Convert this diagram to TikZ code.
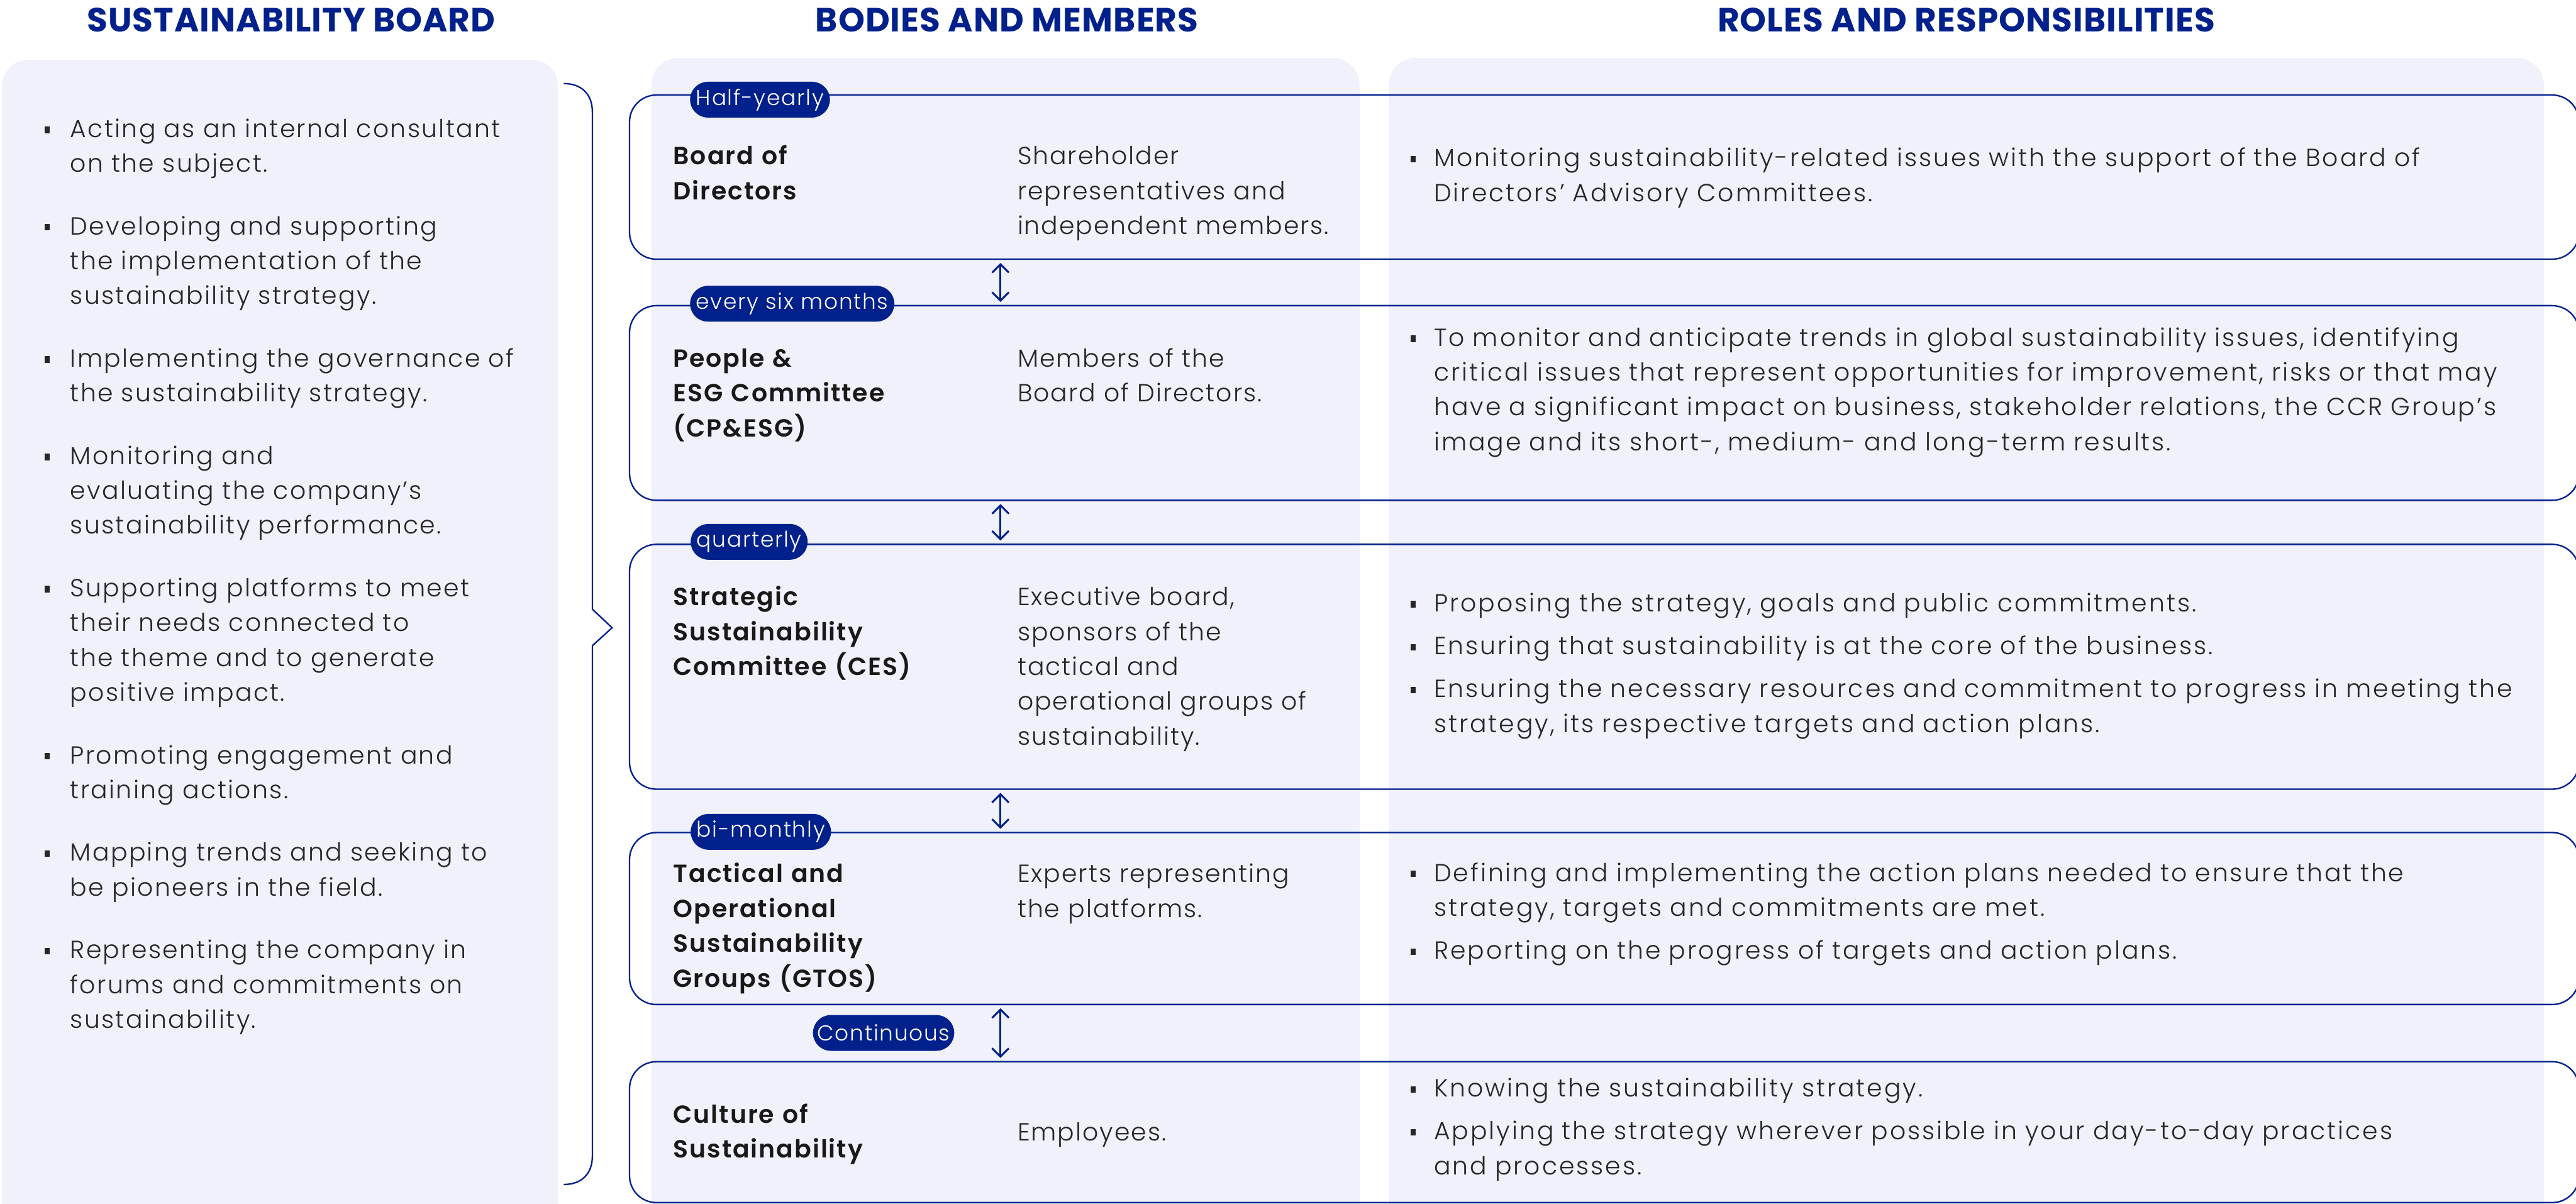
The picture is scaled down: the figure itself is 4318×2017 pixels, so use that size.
\documentclass[tikz,border=0pt]{standalone}
\usepackage{fontspec}
\setmainfont{Poppins}[UprightFont=* Light, BoldFont=* SemiBold, LetterSpace=5]
\newfontfamily\headfont{Poppins}[UprightFont=* Bold, LetterSpace=2]
\usepackage{xcolor}
\usetikzlibrary{shapes.misc, arrows.meta}

\definecolor{navy}{HTML}{00208C}
\definecolor{panelbg}{HTML}{F0F1FA}
\definecolor{ink}{HTML}{262626}

\newcommand\bodysize{\fontsize{11.8pt}{16.6pt}\selectfont}
% bullet with hanging indent; each item ends with \par
\newcommand\bul[1]{\noindent\hangindent=#1\hangafter=1%
  \makebox[#1][l]{\rule[2pt]{2.3pt}{3.1pt}}\ignorespaces}

\tikzset{
  panel/.style={fill=panelbg, rounded corners=0.45cm},
  head/.style={anchor=base, text=navy, font=\headfont\fontsize{16pt}{18pt}\selectfont},
  box/.style={draw=navy, line width=0.7pt, rounded corners=0.45cm, anchor=north west,
    inner sep=0pt, minimum width=32.66cm},
  pill/.style={rounded rectangle, fill=navy, text=white, anchor=west, inner xsep=0.04cm,
    inner ysep=0pt, minimum height=0.6cm, font=\fontsize{10.3pt}{12pt}\selectfont},
  body/.style={anchor=base west, inner sep=0pt, align=left, text=ink, font=\bodysize},
  title/.style={body, text width=5.2cm, font=\bodysize\bfseries, text=black!90},
  desc/.style={body, text width=6cm},
  roles/.style={body, text width=19.5cm, font=\bodysize\addfontfeatures{LetterSpace=7.5}},
  updown/.style={navy, line width=0.9pt,
    {Straight Barb[length=0.14cm, width=0.28cm]}-{Straight Barb[length=0.14cm, width=0.28cm]},
    shorten <=0.05cm, shorten >=0.05cm},
}

\begin{document}
\begin{tikzpicture}[x=0.01cm, y=-0.01cm]
        \useasboundingbox (0,0) rectangle (4318,2017);
        \clip (0,0) rectangle (4318,2017);

        % Panels
        \fill[panel] (3,100) rectangle (936,2080);
        \fill[panel] (1092,97) rectangle (2279,2080);
        \fill[panel] (2328,97) rectangle (4264,2080);

        \node[head] (hboard) at (488,53) {SUSTAINABILITY BOARD};
        \node[head] (hbodies) at (1688,53) {BODIES AND MEMBERS};
        \node[head] (hroles) at (3296,53) {ROLES AND RESPONSIBILITIES};

        % Sustainability board
        \node[body, text width=8.6cm, font=\bodysize\addfontfeatures{LetterSpace=6}] (board) at (74,230) {\setlength{\parskip}{0.465cm}%
          \bul{0.43cm}Acting as an internal consultant\newline on the subject.\par
          \bul{0.43cm}Developing and supporting\newline the implementation of the\newline sustainability strategy.\par
          \bul{0.43cm}Implementing the governance of\newline the sustainability strategy.\par
          \bul{0.43cm}Monitoring and\newline evaluating the company’s\newline sustainability performance.\par
          \bul{0.43cm}Supporting platforms to meet\newline their needs connected to\newline the theme and to generate\newline positive impact.\par
          \bul{0.43cm}Promoting engagement and\newline training actions.\par
          \bul{0.43cm}Mapping trends and seeking to\newline be pioneers in the field.\par
          \bul{0.43cm}Representing the company in\newline forums and commitments on\newline sustainability.\par};

        \draw[navy, line width=0.7pt, line join=miter] (945,140) .. controls (975,140) and (993,158) .. (993,188)
          -- (993,1021) -- (1026,1052) -- (993,1082) -- (993,1937)
          .. controls (993,1967) and (975,1985) .. (945,1985);

        % Bodies
        \node[box, minimum height=2.75cm] (b1) at (1054,158) {};
        \node[box, minimum height=3.26cm] (b2) at (1054,511) {};
        \node[box, minimum height=4.10cm] (b3) at (1054,911) {};
        \node[box, minimum height=2.88cm] (b4) at (1054,1394) {};
        \node[box, minimum height=2.36cm] (b5) at (1054,1778) {};

        \node[pill] (p1) at (1156,167) {Half-yearly};
        \node[pill] (p2) at (1156,509) {every six months};
        \node[pill] (p3) at (1157,908) {quarterly};
        \node[pill] (p4) at (1157,1394) {bi-monthly};
        \node[pill] (p5) at (1362,1731) {Continuous};

        \coordinate (mid) at (1677,0);
        \draw[updown] (b1.south -| mid) -- (b2.north -| mid);
        \draw[updown] (b2.south -| mid) -- (b3.north -| mid);
        \draw[updown] (b3.south -| mid) -- (b4.north -| mid);
        \draw[updown] (b4.south -| mid) -- (b5.north -| mid);

        \node[title] (t1) at (1128,276) {Board of\\Directors};
        \node[desc] (d1) at (1705,276) {Shareholder\\representatives and\\independent members.};
        \node[title] (t2) at (1128,615) {People \&\\ESG Committee\\(CP\&ESG)};
        \node[desc] (d2) at (1705,615) {Members of the\\Board of Directors.};
        \node[title] (t3) at (1128,1015) {Strategic\\Sustainability\\Committee (CES)};
        \node[desc] (d3) at (1705,1015) {Executive board,\\sponsors of the\\tactical and\\operational groups of\\sustainability.};
        \node[title] (t4) at (1128,1479) {Tactical and\\Operational\\Sustainability\\Groups (GTOS)};
        \node[desc] (d4) at (1705,1479) {Experts representing\\the platforms.};
        \node[title] (t5) at (1128,1882) {Culture of\\Sustainability};
        \node[desc] (d5) at (1705,1912) {Employees.};

        % Roles
        \node[roles] (r1) at (2364,279) {%
          \bul{0.39cm}Monitoring sustainability-related issues with the support of the Board of\newline Directors’ Advisory Committees.\par};
        \node[roles] (r2) at (2364,580) {%
          \bul{0.39cm}To monitor and anticipate trends in global sustainability issues, identifying\newline critical issues that represent opportunities for improvement, risks or that may\newline have a significant impact on business, stakeholder relations, the CCR Group’s\newline image and its short-, medium- and long-term results.\par};
        \node[roles] (r3) at (2364,1025) {\setlength{\parskip}{0.135cm}%
          \bul{0.39cm}Proposing the strategy, goals and public commitments.\par
          \bul{0.39cm}Ensuring that sustainability is at the core of the business.\par
          \bul{0.39cm}Ensuring the necessary resources and commitment to progress in meeting the\newline strategy, its respective targets and action plans.\par};
        \node[roles] (r4) at (2364,1477) {\setlength{\parskip}{0.135cm}%
          \bul{0.39cm}Defining and implementing the action plans needed to ensure that the\newline strategy, targets and commitments are met.\par
          \bul{0.39cm}Reporting on the progress of targets and action plans.\par};
        \node[roles] (r5) at (2364,1838) {\setlength{\parskip}{0.135cm}%
          \bul{0.39cm}Knowing the sustainability strategy.\par
          \bul{0.39cm}Applying the strategy wherever possible in your day-to-day practices\newline and processes.\par};
\end{tikzpicture}
\end{document}
